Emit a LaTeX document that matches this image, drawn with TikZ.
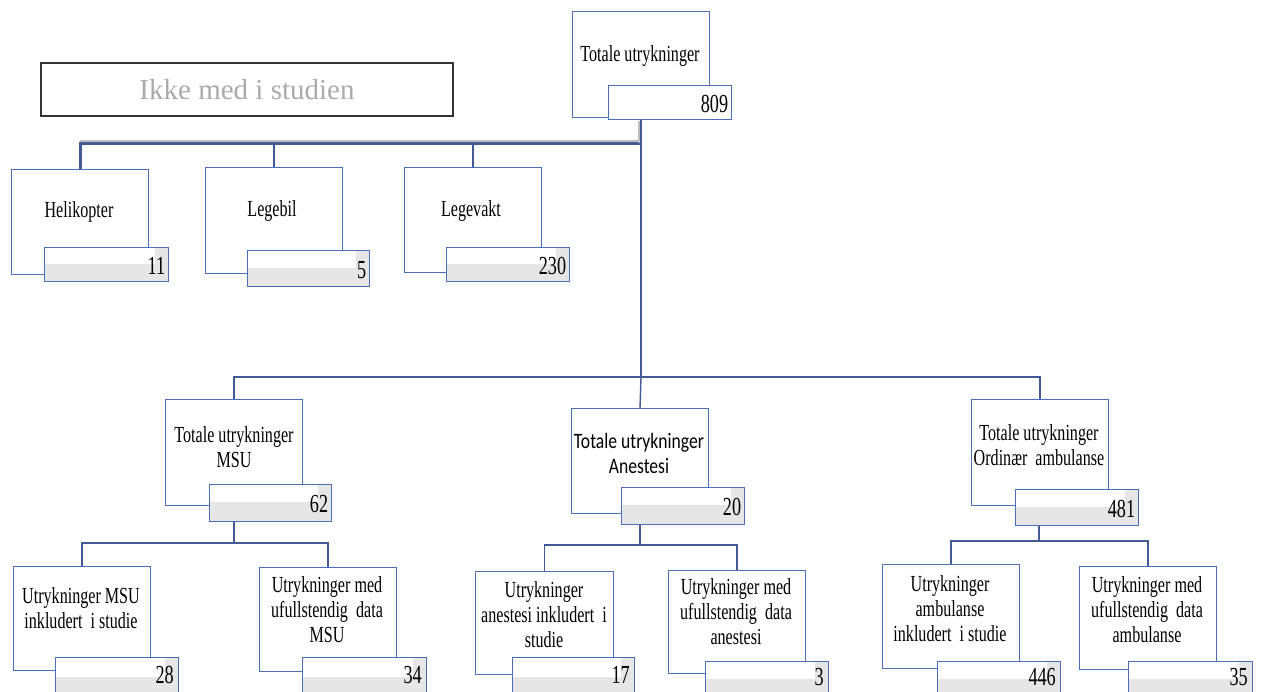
\documentclass[tikz,border=0pt]{standalone}
\usepackage{fontspec}
\usetikzlibrary{calc}
\setmainfont{Liberation Serif}
\newfontfamily\condf{Liberation Serif}[FakeStretch=0.7]
\newfontfamily\calf{Carlito}[FakeStretch=0.8]
\definecolor{boxblue}{RGB}{74,110,186}
\definecolor{lineblue}{RGB}{66,90,150}
\definecolor{numgray}{RGB}{230,230,230}
\definecolor{leggray}{RGB}{172,168,172}
\definecolor{shadowgray}{RGB}{190,190,190}
\begin{document}
\begin{tikzpicture}[x=1pt,y=-1pt,
  outer/.style={draw=boxblue, line width=1.3pt, fill=white, anchor=north west, inner sep=0pt},
  numbox/.style={draw=boxblue, line width=1.3pt, fill=white, anchor=north west, inner sep=0pt,
    path picture={
      \fill[numgray] ([yshift=1pt]path picture bounding box.west) rectangle (path picture bounding box.south east);
      \fill[numgray] ([xshift=-14pt]path picture bounding box.north east) rectangle (path picture bounding box.south east);}},
  plainnum/.style={draw=boxblue, line width=1.3pt, fill=white, anchor=north west, inner sep=0pt},
  numtxt/.style={anchor=east, xshift=-4pt, yshift=-1pt, inner sep=0pt, font=\condf\fontsize{26}{28}\selectfont},
  lbl/.style={align=center, inner sep=0pt, font=\condf\fontsize{23}{25}\selectfont},
  lblsans/.style={align=center, inner sep=0pt, font=\calf\fontsize{22}{25}\selectfont},
  conn/.style={draw=lineblue, line width=1.4pt},
  thickconn/.style={draw=lineblue, line width=3pt},
  legendbox/.style={draw=black!80, line width=1.3pt, minimum width=412pt, minimum height=53pt, inner sep=0pt,
    text=leggray, font=\fontsize{29}{32}\selectfont}
]
\useasboundingbox (0,0) rectangle (1263,691);

% junction coordinates
\coordinate (j1) at (641,143);
\coordinate (j2) at (641,377);
\coordinate (jm) at (234,543);
\coordinate (ja) at (640,545);
\coordinate (jo) at (1039,541);

% legend
\node[legendbox] (legend) at (247,89.5) {Ikke med i studien};

% boxes (outer)
\node[outer, minimum width=137pt, minimum height=106pt] (top) at (572,11) {};
\node[outer, minimum width=137pt, minimum height=105pt] (helo) at (11,169) {};
\node[outer, minimum width=137pt, minimum height=106pt] (lbil) at (205,167) {};
\node[outer, minimum width=137pt, minimum height=105pt] (lvakt) at (404,167) {};
\node[outer, minimum width=137pt, minimum height=106pt] (msu) at (165,399) {};
\node[outer, minimum width=137pt, minimum height=105pt] (an) at (571,408) {};
\node[outer, minimum width=137pt, minimum height=106pt] (ord) at (971,399) {};
\node[outer, minimum width=137pt, minimum height=104pt] (msuL) at (13,566) {};
\node[outer, minimum width=137pt, minimum height=104pt] (msuR) at (259,567) {};
\node[outer, minimum width=138pt, minimum height=103pt] (anL) at (475,571) {};
\node[outer, minimum width=137pt, minimum height=103pt] (anR) at (668,570) {};
\node[outer, minimum width=137pt, minimum height=104pt] (ordL) at (882,564) {};
\node[outer, minimum width=137pt, minimum height=103pt] (ordR) at (1079,566) {};

% connectors
\draw[shadowgray, line width=2pt] ($(helo.north |- j1)+(0,-2.5)$) -- ($(j1)+(0,-2.5)$);
\draw[thickconn] (helo.north) |- (j1);
\draw[conn] (lbil.north) -- (lbil.north |- j1);
\draw[conn] (lvakt.north) -- (lvakt.north |- j1);
\draw[shadowgray, line width=1.5pt] ($(j1)+(-2,-22)$) -- ($(j1)+(-2,0)$);
\draw[conn] (msu.north) |- (j2) -| (ord.north);
\draw[conn] (an.north -| ja) -- (j2);
\draw[conn] (msuL.north) |- (jm) -| (msuR.north);
\draw[conn] (anL.north) |- (ja) -| (anR.north);
\draw[conn] (ordL.north) |- (jo) -| (ordR.north);

% number boxes
\node[plainnum, minimum width=123pt, minimum height=34pt] (topN) at (608,85) {};
\node[numbox, minimum width=124pt, minimum height=34pt] (heloN) at (44,247) {};
\node[numbox, minimum width=122pt, minimum height=36pt] (lbilN) at (247,250) {};
\node[numbox, minimum width=123pt, minimum height=34pt] (lvaktN) at (446,247) {};
\node[numbox, minimum width=122pt, minimum height=37pt] (msuN) at (209,484) {};
\node[numbox, minimum width=123pt, minimum height=37pt] (anN) at (621,487) {};
\node[numbox, minimum width=123pt, minimum height=36pt] (ordN) at (1015,489) {};
\node[numbox, minimum width=123pt, minimum height=40pt] (msuLN) at (55,657) {};
\node[numbox, minimum width=124pt, minimum height=40pt] (msuRN) at (302,657) {};
\node[numbox, minimum width=122pt, minimum height=40pt] (anLN) at (512,657) {};
\node[numbox, minimum width=123pt, minimum height=36pt] (anRN) at (705,661) {};
\node[numbox, minimum width=123pt, minimum height=36pt] (ordLN) at (937,661) {};
\node[numbox, minimum width=124pt, minimum height=36pt] (ordRN) at (1128,661) {};

% connectors from number boxes down
\draw[conn] (topN.south -| j1) -- (j1) -- (j2);
\draw[conn] (msuN.south -| jm) -- (jm);
\draw[conn] (anN.south -| ja) -- (ja);
\draw[conn] (ordN.south -| jo) -- (jo);

% numbers
\node[numtxt] (topV) at (topN.east) {809};
\node[numtxt] (heloV) at (heloN.east) {11};
\node[numtxt] (lbilV) at (lbilN.east) {5};
\node[numtxt] (lvaktV) at (lvaktN.east) {230};
\node[numtxt] (msuV) at (msuN.east) {62};
\node[numtxt] (anV) at (anN.east) {20};
\node[numtxt] (ordV) at (ordN.east) {481};
\node[numtxt] (msuLV) at (178,674) {28};
\node[numtxt] (msuRV) at (426,674) {34};
\node[numtxt] (anLV) at (634,674) {17};
\node[numtxt] (anRV) at (828,676) {3};
\node[numtxt] (ordLV) at (1060,676) {446};
\node[numtxt] (ordRV) at (1252,676) {35};

% labels
\node[lbl] (topT) at (640,56) {Totale utrykninger};
\node[lbl] (heloT) at (79,212) {Helikopter};
\node[lbl] (lbilT) at (272,211) {Legebil};
\node[lbl] (lvaktT) at (471,211) {Legevakt};
\node[lbl] (msuT) at (234,447) {Totale utrykninger\\MSU};
\node[lblsans] (anT) at (639,453) {Totale utrykninger\\Anestesi};
\node[lbl] (ordT) at (1039,445) {Totale utrykninger\\Ordinær\ \ ambulanse};
\node[lbl] (msuLT) at (81,608) {Utrykninger MSU\\inkludert\ \ i studie};
\node[lbl] (msuRT) at (327,610) {Utrykninger med\\ufullstendig\ \ data\\MSU};
\node[lbl] (anLT) at (544,615) {Utrykninger\\anestesi inkludert\ \ i\\studie};
\node[lbl] (anRT) at (736,612) {Utrykninger med\\ufullstendig\ \ data\\anestesi};
\node[lbl] (ordLT) at (950,609) {Utrykninger\\ambulanse\\inkludert\ \ i studie};
\node[lbl] (ordRT) at (1147,610) {Utrykninger med\\ufullstendig\ \ data\\ambulanse};
\end{tikzpicture}
\end{document}
